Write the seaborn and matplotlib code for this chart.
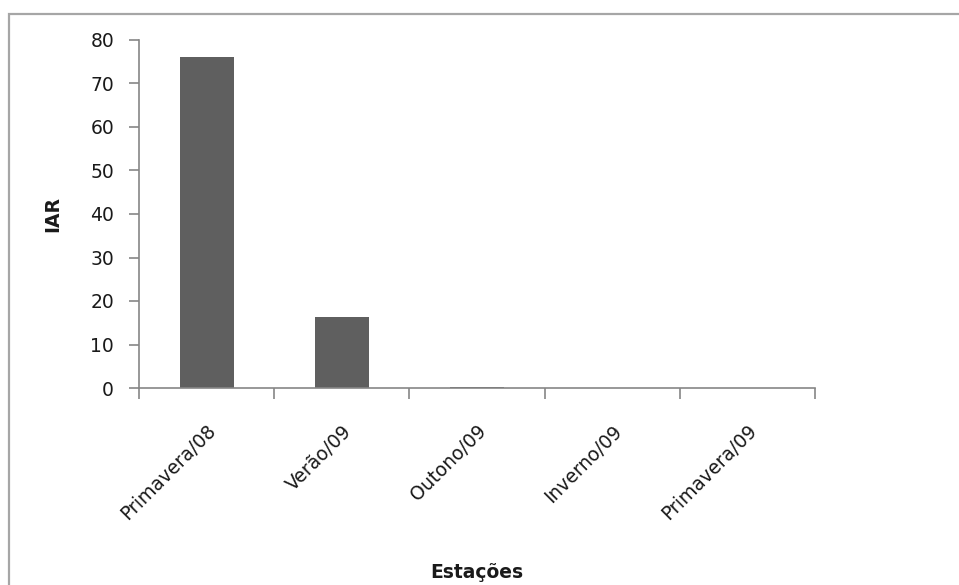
import matplotlib
matplotlib.use("Agg")
import matplotlib.pyplot as plt
import matplotlib.transforms as mtransforms
from matplotlib.patches import Rectangle
import seaborn as sns
import pandas as pd

# IAR per season
estacoes = ["Primavera/08", "Verão/09", "Outono/09", "Inverno/09", "Primavera/09"]
iar = [76.1, 16.4, 0.2, 0.1, 0.0]
y_ticks = [0, 10, 20, 30, 40, 50, 60, 70, 80]

df = pd.DataFrame({"Estações": estacoes, "IAR": iar})

sns.set_style("white")
plt.rcParams["font.family"] = ["DejaVu Sans"]

axis_grey = "#868686"
text_col = "#1a1a1a"
fs = 13.5

fig = plt.figure(figsize=(9.59, 5.85), dpi=100)
ax = fig.add_axes([139 / 959, 1 - 388 / 585, 676 / 959, 348 / 585])

sns.barplot(data=df, x="Estações", y="IAR", color="#5f5f5f", width=0.4,
            saturation=1, ax=ax, edgecolor="none")

ax.set_xlim(-0.5, len(estacoes) - 0.5)
ax.set_ylim(0, 80)
ax.set_yticks(y_ticks)

# category labels at centres, tick marks at boundaries
ax.set_xticks(range(len(estacoes)))
ax.set_xticklabels(estacoes, rotation=45, ha="right", rotation_mode="anchor",
                   fontsize=fs, color=text_col)
shift = mtransforms.ScaledTranslation(1 / 100, 0, fig.dpi_scale_trans)
for lbl in ax.get_xticklabels():
    lbl.set_transform(lbl.get_transform() + shift)
ax.set_xticks([i - 0.5 for i in range(len(estacoes) + 1)], minor=True)
ax.tick_params(axis="x", which="major", length=0, pad=24)
ax.tick_params(axis="x", which="minor", length=8, width=1.2, color=axis_grey,
               direction="out", bottom=True)
ax.tick_params(axis="y", length=7, width=1.2, color=axis_grey, direction="out",
               left=True, labelsize=fs, labelcolor=text_col, pad=11)

for side in ("top", "right"):
    ax.spines[side].set_visible(False)
for side in ("left", "bottom"):
    ax.spines[side].set_color(axis_grey)
    ax.spines[side].set_linewidth(1.2)

ax.set_xlabel("Estações", fontsize=fs, fontweight="bold", color=text_col)
ax.set_ylabel("IAR", fontsize=fs, fontweight="bold", color=text_col)
ax.xaxis.set_label_coords(0.5, (388 - 563) / 348)
ax.yaxis.set_label_coords((62 - 139) / 676, 0.5)

# chart area frame
fig.patches.append(Rectangle((9 / 959, -0.1), 1.2, 1 - 14 / 585 + 0.1,
                             transform=fig.transFigure, fill=False,
                             edgecolor="#a6a6a6", linewidth=1.6))

fig.savefig("out.png", dpi=100)
